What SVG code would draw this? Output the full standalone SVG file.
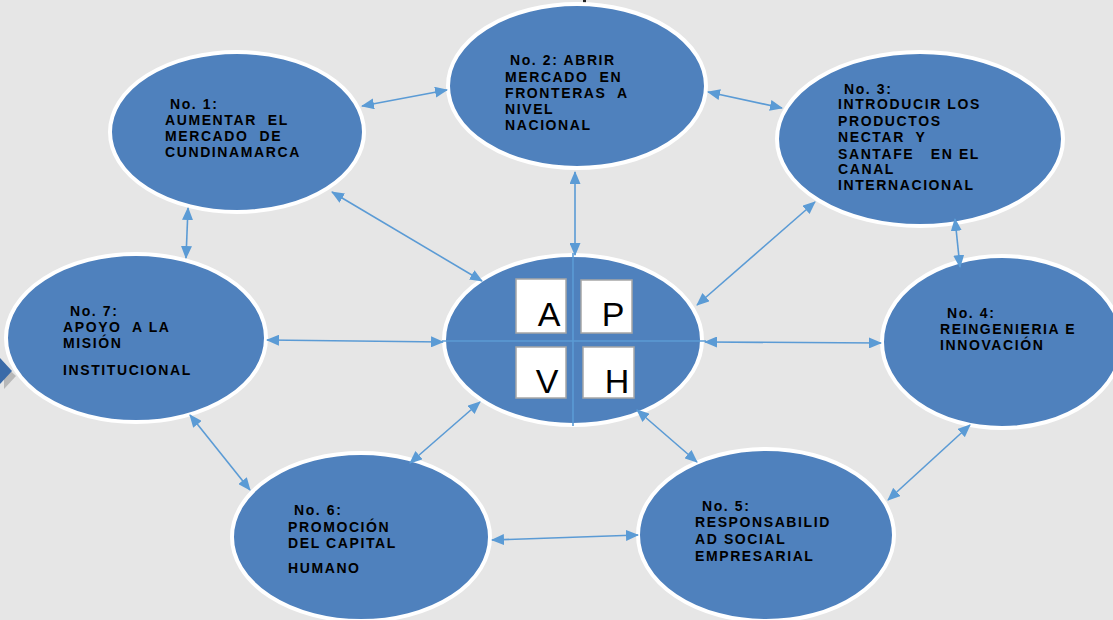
<svg xmlns="http://www.w3.org/2000/svg" width="1113" height="620" viewBox="0 0 1113 620">
<style>
.bg{fill:#e6e6e6}
.node{fill:#4f81bd;stroke:#ffffff;stroke-width:4}
.lbl{font-family:"Liberation Sans",Arial,sans-serif;font-size:14px;font-weight:bold;fill:#000;letter-spacing:1.6px;white-space:pre}
.conn line{stroke:#5b9bd5;stroke-width:1.6;marker-start:url(#ah);marker-end:url(#ah)}
.axis{stroke:#5b9bd5;stroke-width:1.6}
.sq{fill:#fff;stroke:#a6a6a6;stroke-width:1.5}
.big{font-family:"Liberation Sans",Arial,sans-serif;font-size:34px;fill:#000;text-anchor:middle}
</style>
<defs>
<marker id="ah" viewBox="0 0 13 11" refX="12" refY="5.5" markerWidth="13" markerHeight="11" markerUnits="userSpaceOnUse" orient="auto-start-reverse">
<path d="M0,0 L13,5.5 L0,11 Z" fill="#5b9bd5"/>
</marker>
</defs>
<rect class="bg" x="0" y="0" width="1113" height="620"/>
<rect x="583" y="0" width="3" height="3" fill="#222"/>
<g id="edge-mark">
<path d="M2,362 L14,373 L2,386 Z" fill="#9a9a9a" opacity="0.6" transform="translate(2,3)"/>
<path d="M0,358 L12,371 L0,384 Z" fill="#3a6aa8"/>
</g>
<g id="n1"><ellipse class="node" cx="237" cy="132" rx="127" ry="80"/>
<text class="lbl"><tspan x="170" y="109">No. 1:</tspan><tspan x="165" y="125">AUMENTAR  EL</tspan><tspan x="165" y="141">MERCADO  DE</tspan><tspan x="165" y="157">CUNDINAMARCA</tspan></text></g>
<g id="n2"><ellipse class="node" cx="577" cy="86" rx="129" ry="82"/>
<text class="lbl"><tspan x="510" y="65">No. 2: ABRIR</tspan><tspan x="505" y="82">MERCADO  EN</tspan><tspan x="505" y="98">FRONTERAS  A</tspan><tspan x="505" y="114">NIVEL</tspan><tspan x="505" y="130">NACIONAL</tspan></text></g>
<g id="n3"><ellipse class="node" cx="920" cy="139" rx="143" ry="87"/>
<text class="lbl"><tspan x="844" y="94">No. 3:</tspan><tspan x="838" y="109">INTRODUCIR LOS</tspan><tspan x="838" y="126">PRODUCTOS</tspan><tspan x="838" y="142">NECTAR  Y</tspan><tspan x="838" y="159">SANTAFE   EN EL</tspan><tspan x="838" y="174">CANAL</tspan><tspan x="838" y="190">INTERNACIONAL</tspan></text></g>
<g id="n4"><ellipse class="node" cx="1002" cy="342" rx="120" ry="86"/>
<text class="lbl"><tspan x="947" y="318">No. 4:</tspan><tspan x="940" y="334">REINGENIERIA E</tspan><tspan x="940" y="350">INNOVACIÓN</tspan></text></g>
<g id="n5"><ellipse class="node" cx="766" cy="535" rx="128" ry="86"/>
<text class="lbl"><tspan x="702" y="511">No. 5:</tspan><tspan x="695" y="527">RESPONSABILID</tspan><tspan x="695" y="544">AD SOCIAL</tspan><tspan x="695" y="561">EMPRESARIAL</tspan></text></g>
<g id="n6"><ellipse class="node" cx="361" cy="537" rx="129" ry="84"/>
<text class="lbl"><tspan x="294" y="515">No. 6:</tspan><tspan x="288" y="532">PROMOCIÓN</tspan><tspan x="288" y="548">DEL CAPITAL</tspan><tspan x="288" y="573">HUMANO</tspan></text></g>
<g id="n7"><ellipse class="node" cx="136" cy="338" rx="130" ry="84"/>
<text class="lbl"><tspan x="70" y="316">No. 7:</tspan><tspan x="63" y="332">APOYO  A LA</tspan><tspan x="63" y="348">MISIÓN</tspan><tspan x="63" y="375">INSTITUCIONAL</tspan></text></g>
<g id="center"><ellipse class="node" cx="573" cy="340" rx="129" ry="85"/>
<line class="axis" x1="573" y1="253" x2="573" y2="426"/>
<line class="axis" x1="442" y1="341" x2="706" y2="341"/>
<rect class="sq" x="516" y="279" width="50" height="54"/>
<rect class="sq" x="581" y="280" width="51" height="53"/>
<rect class="sq" x="516" y="347" width="50" height="51"/>
<rect class="sq" x="583" y="347" width="51" height="51"/>
<text class="big" x="549" y="326">A</text>
<text class="big" x="613" y="326">P</text>
<text class="big" x="547" y="393">V</text>
<text class="big" x="617" y="393">H</text></g>
<g id="connectors" class="conn">
<line x1="362" y1="106" x2="447" y2="90"/>
<line x1="708" y1="92" x2="782" y2="108"/>
<line x1="188" y1="208" x2="186" y2="258"/>
<line x1="955" y1="219" x2="960" y2="267"/>
<line x1="332" y1="192" x2="482" y2="281"/>
<line x1="575" y1="172" x2="575" y2="255"/>
<line x1="815" y1="202" x2="697" y2="305"/>
<line x1="267" y1="340" x2="443" y2="342"/>
<line x1="705" y1="342" x2="881" y2="343"/>
<line x1="190" y1="415" x2="250" y2="490"/>
<line x1="480" y1="402" x2="410" y2="463"/>
<line x1="637" y1="410" x2="697" y2="462"/>
<line x1="492" y1="540" x2="638" y2="535"/>
<line x1="970" y1="425" x2="888" y2="500"/>
</g>
</svg>
